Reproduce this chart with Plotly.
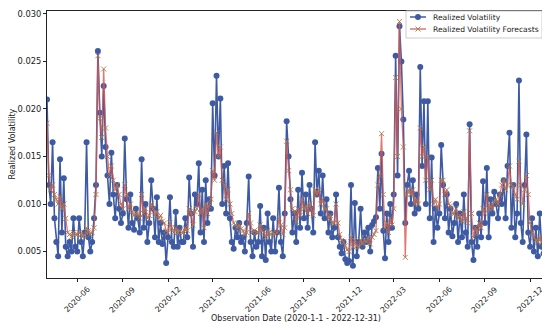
import pandas as pd
import plotly.graph_objects as go

# Months covered (8 observations read per month)
months = pd.period_range("2020-04", "2022-12", freq="M").astype(str).tolist()

# Realized volatility (8 values per month, Apr 2020 -> Dec 2022)
realized = [
    0.0210, 0.0120, 0.0100, 0.0165, 0.0085, 0.0060, 0.0045, 0.0147,  # 2020-04
    0.0070, 0.0127, 0.0055, 0.0045, 0.0060, 0.0050, 0.0085, 0.0055,  # 2020-05
    0.0050, 0.0085, 0.0060, 0.0045, 0.0070, 0.0165, 0.0065, 0.0050,  # 2020-06
    0.0060, 0.0085, 0.0120, 0.0261, 0.0196, 0.0150, 0.0224, 0.0160,  # 2020-07
    0.0130, 0.0100, 0.0154, 0.0110, 0.0085, 0.0120, 0.0095, 0.0080,  # 2020-08
    0.0090, 0.0169, 0.0105, 0.0075, 0.0110, 0.0080, 0.0073, 0.0095,  # 2020-09
    0.0085, 0.0070, 0.0147, 0.0075, 0.0100, 0.0060, 0.0080, 0.0125,  # 2020-10
    0.0095, 0.0065, 0.0107, 0.0060, 0.0080, 0.0058, 0.0070, 0.0038,  # 2020-11
    0.0065, 0.0107, 0.0060, 0.0055, 0.0092, 0.0055, 0.0075, 0.0060,  # 2020-12
    0.0060, 0.0085, 0.0065, 0.0128, 0.0090, 0.0055, 0.0110, 0.0100,  # 2021-01
    0.0143, 0.0070, 0.0115, 0.0060, 0.0125, 0.0080, 0.0105, 0.0095,  # 2021-02
    0.0206, 0.0130, 0.0235, 0.0150, 0.0211, 0.0100, 0.0140, 0.0090,  # 2021-03
    0.0143, 0.0085, 0.0060, 0.0053, 0.0075, 0.0065, 0.0080, 0.0060,  # 2021-04
    0.0065, 0.0050, 0.0080, 0.0129, 0.0060, 0.0045, 0.0070, 0.0055,  # 2021-05
    0.0060, 0.0098, 0.0045, 0.0075, 0.0041, 0.0090, 0.0060, 0.0050,  # 2021-06
    0.0085, 0.0050, 0.0070, 0.0117, 0.0060, 0.0045, 0.0090, 0.0187,  # 2021-07
    0.0150, 0.0105, 0.0070, 0.0090, 0.0060, 0.0115, 0.0075, 0.0133,  # 2021-08
    0.0085, 0.0110, 0.0075, 0.0120, 0.0095, 0.0070, 0.0165, 0.0110,  # 2021-09
    0.0135, 0.0090, 0.0130, 0.0085, 0.0105, 0.0070, 0.0090, 0.0065,  # 2021-10
    0.0075, 0.0110, 0.0065, 0.0055, 0.0048, 0.0060, 0.0042, 0.0038,  # 2021-11
    0.0040, 0.0120, 0.0035, 0.0101, 0.0045, 0.0060, 0.0095, 0.0055,  # 2021-12
    0.0070, 0.0060, 0.0075, 0.0050, 0.0078, 0.0082, 0.0086, 0.0138,  # 2022-01
    0.0095, 0.0153, 0.0072, 0.0043, 0.0090, 0.0060, 0.0100, 0.0075,  # 2022-02
    0.0110, 0.0256, 0.0130, 0.0287, 0.0250, 0.0189, 0.0080, 0.0120,  # 2022-03
    0.0135, 0.0100, 0.0125, 0.0090, 0.0110, 0.0095, 0.0244, 0.0140,  # 2022-04
    0.0208, 0.0100, 0.0208, 0.0085, 0.0149, 0.0060, 0.0095, 0.0075,  # 2022-05
    0.0090, 0.0162, 0.0120, 0.0085, 0.0110, 0.0070, 0.0095, 0.0066,  # 2022-06
    0.0080, 0.0100, 0.0060, 0.0090, 0.0065, 0.0110, 0.0070, 0.0055,  # 2022-07
    0.0184, 0.0060, 0.0041, 0.0075, 0.0055, 0.0090, 0.0065, 0.0124,  # 2022-08
    0.0080, 0.0138, 0.0065, 0.0105, 0.0090, 0.0113, 0.0100, 0.0085,  # 2022-09
    0.0110, 0.0100, 0.0125, 0.0085, 0.0140, 0.0175, 0.0075, 0.0120,  # 2022-10
    0.0065, 0.0090, 0.0230, 0.0080, 0.0060, 0.0120, 0.0173, 0.0070,  # 2022-11
    0.0055, 0.0085, 0.0050, 0.0075, 0.0045, 0.0090, 0.0055, 0.0048,  # 2022-12
]

# Realized volatility forecasts (same dates)
forecast = [
    0.0185, 0.0130, 0.0115, 0.0120, 0.0110, 0.0105, 0.0100, 0.0108,  # 2020-04
    0.0095, 0.0100, 0.0085, 0.0070, 0.0068, 0.0066, 0.0070, 0.0068,  # 2020-05
    0.0068, 0.0070, 0.0068, 0.0066, 0.0067, 0.0075, 0.0072, 0.0068,  # 2020-06
    0.0070, 0.0075, 0.0110, 0.0256, 0.0190, 0.0170, 0.0242, 0.0180,  # 2020-07
    0.0150, 0.0130, 0.0140, 0.0125, 0.0115, 0.0120, 0.0110, 0.0100,  # 2020-08
    0.0095, 0.0120, 0.0110, 0.0095, 0.0100, 0.0092, 0.0088, 0.0090,  # 2020-09
    0.0090, 0.0085, 0.0110, 0.0090, 0.0095, 0.0085, 0.0088, 0.0100,  # 2020-10
    0.0095, 0.0088, 0.0092, 0.0085, 0.0088, 0.0082, 0.0080, 0.0072,  # 2020-11
    0.0070, 0.0080, 0.0075, 0.0070, 0.0075, 0.0070, 0.0072, 0.0070,  # 2020-12
    0.0070, 0.0075, 0.0072, 0.0095, 0.0090, 0.0078, 0.0092, 0.0095,  # 2021-01
    0.0110, 0.0090, 0.0095, 0.0075, 0.0100, 0.0090, 0.0098, 0.0105,  # 2021-02
    0.0135, 0.0125, 0.0175, 0.0150, 0.0160, 0.0125, 0.0120, 0.0105,  # 2021-03
    0.0115, 0.0100, 0.0090, 0.0080, 0.0078, 0.0075, 0.0078, 0.0074,  # 2021-04
    0.0072, 0.0068, 0.0070, 0.0090, 0.0080, 0.0070, 0.0072, 0.0070,  # 2021-05
    0.0070, 0.0078, 0.0072, 0.0070, 0.0065, 0.0072, 0.0070, 0.0068,  # 2021-06
    0.0070, 0.0068, 0.0070, 0.0085, 0.0078, 0.0068, 0.0075, 0.0166,  # 2021-07
    0.0135, 0.0115, 0.0095, 0.0092, 0.0082, 0.0095, 0.0088, 0.0105,  # 2021-08
    0.0095, 0.0098, 0.0090, 0.0100, 0.0095, 0.0088, 0.0115, 0.0110,  # 2021-09
    0.0115, 0.0100, 0.0105, 0.0095, 0.0095, 0.0085, 0.0088, 0.0080,  # 2021-10
    0.0080, 0.0100, 0.0080, 0.0068, 0.0062, 0.0060, 0.0056, 0.0052,  # 2021-11
    0.0050, 0.0065, 0.0055, 0.0062, 0.0056, 0.0055, 0.0062, 0.0058,  # 2021-12
    0.0062, 0.0060, 0.0064, 0.0058, 0.0065, 0.0068, 0.0072, 0.0120,  # 2022-01
    0.0130, 0.0174, 0.0110, 0.0075, 0.0080, 0.0070, 0.0085, 0.0078,  # 2022-02
    0.0095, 0.0233, 0.0150, 0.0292, 0.0200, 0.0160, 0.0044, 0.0110,  # 2022-03
    0.0115, 0.0110, 0.0115, 0.0100, 0.0105, 0.0100, 0.0180, 0.0150,  # 2022-04
    0.0160, 0.0125, 0.0150, 0.0115, 0.0125, 0.0100, 0.0105, 0.0095,  # 2022-05
    0.0100, 0.0125, 0.0125, 0.0110, 0.0115, 0.0100, 0.0098, 0.0090,  # 2022-06
    0.0090, 0.0095, 0.0085, 0.0088, 0.0082, 0.0092, 0.0085, 0.0080,  # 2022-07
    0.0177, 0.0090, 0.0065, 0.0075, 0.0070, 0.0080, 0.0075, 0.0095,  # 2022-08
    0.0090, 0.0110, 0.0095, 0.0098, 0.0095, 0.0102, 0.0105, 0.0100,  # 2022-09
    0.0110, 0.0120, 0.0125, 0.0115, 0.0120, 0.0140, 0.0120, 0.0118,  # 2022-10
    0.0110, 0.0105, 0.0145, 0.0120, 0.0100, 0.0115, 0.0130, 0.0110,  # 2022-11
    0.0080, 0.0070, 0.0065, 0.0062, 0.0060, 0.0065, 0.0060, 0.0058,  # 2022-12
]

series_names = ["Realized Volatility", "Realized Volatility Forecasts"]
per_month = 8
tick_dates = ["2020-06-01", "2020-09-01", "2020-12-01", "2021-03-01", "2021-06-01",
              "2021-09-01", "2021-12-01", "2022-03-01", "2022-06-01", "2022-09-01",
              "2022-12-01"]
tick_labels = ["2020-06", "2020-09", "2020-12", "2021-03", "2021-06", "2021-09",
               "2021-12", "2022-03", "2022-06", "2022-09", "2022-12"]
y_ticks = [0.005, 0.010, 0.015, 0.020, 0.025, 0.030]

# observation dates spread evenly inside each month
dates = []
for m in months:
    start = pd.Timestamp(m + "-01")
    ndays = start.days_in_month
    for k in range(per_month):
        dates.append(start + pd.Timedelta(days=k * ndays / per_month))

FONT = "DejaVu Sans, Verdana, sans-serif"
INK = "#222222"
BLUE = "#3d5aa3"
RED_LINE = "rgba(214,88,78,0.8)"
X_MARK = "rgba(170,120,80,0.9)"

# plot-area geometry (pixels inside the figure; page adds an 8px body margin)
FIG_W, FIG_H = 542, 320
M_L, M_R, M_T, M_B = 39, 5, 3, 50
PW, PH = FIG_W - M_L - M_R, FIG_H - M_T - M_B


def px(x):  # figure-pixel x -> paper fraction
    return (x - M_L) / PW


def py(y):  # figure-pixel y (from top) -> paper fraction
    return (FIG_H - M_B - y) / PH


fig = go.Figure()
fig.add_trace(go.Scatter(
    x=dates, y=realized, mode="lines+markers", name=series_names[0],
    line=dict(color=BLUE, width=1.6),
    marker=dict(symbol="circle", size=6, color=BLUE),
))
fig.add_trace(go.Scatter(
    x=dates, y=forecast, mode="lines+markers", name=series_names[1],
    line=dict(color=RED_LINE, width=1.3),
    marker=dict(symbol="x-thin", size=5, color=X_MARK, line=dict(width=1, color=X_MARK)),
))

annotations = [
    dict(text="Observation Date (2020-1-1 - 2022-12-31)", x=0.5, y=0,
         xref="paper", yref="paper", xanchor="center", yanchor="middle",
         yshift=-40, showarrow=False, font=dict(size=8, family=FONT, color=INK)),
    dict(text="Realized Volatility", x=0, y=0.5, xref="paper", yref="paper",
         xanchor="center", yanchor="middle", xshift=-35, textangle=-90,
         showarrow=False, font=dict(size=8, family=FONT, color=INK)),
]
# rotated date tick labels, centred under each tick (matplotlib style)
for d, lab in zip(tick_dates, tick_labels):
    annotations.append(dict(text=lab, x=d, y=0, xref="x", yref="paper",
                            xanchor="center", yanchor="top", yshift=-4, textangle=-45,
                            showarrow=False, font=dict(size=7.8, family=FONT, color=INK)))

# custom compact legend (matplotlib style), figure-pixel positions
LEG_X0, LEG_X1, LEG_Y0, LEG_Y1 = 398, 534, 3, 30
rows = [9, 21]
hx0, hx1, hmid, tx = 402, 418, 410, 423
shapes = [dict(type="rect", xref="paper", yref="paper", x0=px(LEG_X0), x1=px(LEG_X1),
               y0=py(LEG_Y0), y1=py(LEG_Y1), line=dict(color="#cccccc", width=1),
               fillcolor="rgba(255,255,255,0.85)", layer="above")]
for i, ry in enumerate(rows):
    col = BLUE if i == 0 else RED_LINE
    shapes.append(dict(type="line", xref="paper", yref="paper", x0=px(hx0), x1=px(hx1),
                       y0=py(ry), y1=py(ry), line=dict(color=col, width=1.5), layer="above"))
    if i == 0:
        shapes.append(dict(type="circle", xref="paper", yref="paper", xsizemode="pixel",
                           ysizemode="pixel", xanchor=px(hmid), yanchor=py(ry),
                           x0=-3, x1=3, y0=-3, y1=3, fillcolor=BLUE,
                           line=dict(color=BLUE, width=0), layer="above"))
    else:
        for s in (1, -1):
            shapes.append(dict(type="line", xref="paper", yref="paper", xsizemode="pixel",
                               ysizemode="pixel", xanchor=px(hmid), yanchor=py(ry),
                               x0=-2.5, x1=2.5, y0=-2.5 * s, y1=2.5 * s,
                               line=dict(color=X_MARK, width=1), layer="above"))
    annotations.append(dict(text=series_names[i], x=px(tx), y=py(ry), xref="paper",
                            yref="paper", xanchor="left", yanchor="middle",
                            showarrow=False, font=dict(size=7.6, family=FONT, color=INK)))

fig.update_layout(
    template="none",
    width=FIG_W, height=FIG_H,
    margin=dict(l=M_L, r=M_R, t=M_T, b=M_B, pad=0),
    paper_bgcolor="white", plot_bgcolor="white",
    font=dict(family=FONT, size=8, color=INK),
    showlegend=False,
    annotations=annotations,
    shapes=shapes,
)
fig.update_xaxes(
    type="date", range=[dates[0], pd.Timestamp("2022-12-31")],
    tickvals=tick_dates, showticklabels=False,
    ticks="outside", ticklen=3, tickcolor=INK, showgrid=False,
    showline=True, linecolor=INK, linewidth=1, mirror=True, zeroline=False,
    automargin=False,
)
fig.update_yaxes(
    range=[0.00222, 0.0303], tickvals=y_ticks, tickformat=".3f",
    ticks="outside", ticklen=3, tickcolor=INK, showgrid=False,
    showline=True, linecolor=INK, linewidth=1, mirror=True,
    tickfont=dict(size=8.3, family=FONT, color=INK), zeroline=False,
    automargin=False, ticklabeloverflow="allow",
)

fig.write_html("out.html")
